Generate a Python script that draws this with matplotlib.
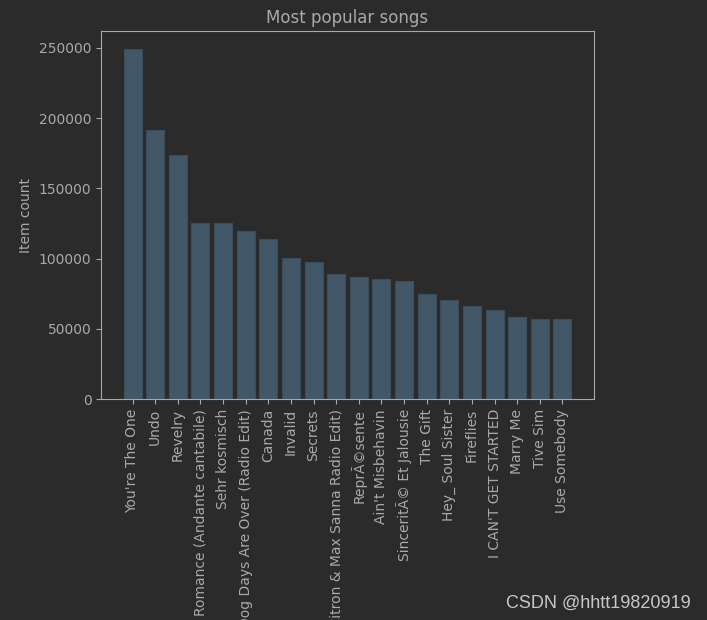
import matplotlib
matplotlib.use("Agg")
import matplotlib.pyplot as plt

# song titles and play counts
songs = ["You're The One", "Undo", "Revelry", "Romance (Andante cantabile)",
         "Sehr kosmisch", "Dog Days Are Over (Radio Edit)", "Canada", "Invalid",
         "Secrets", "(Citron & Max Sanna Radio Edit)", "ReprÃ©sente",
         "Ain't Misbehavin", "SinceritÃ© Et Jalousie", "The Gift",
         "Hey_ Soul Sister", "Fireflies", "I CAN'T GET STARTED", "Marry Me",
         "Tive Sim", "Use Somebody"]
counts = [249500, 191800, 173900, 125500, 125200, 119800, 114100, 100500,
          97700, 89300, 87000, 85500, 84100, 74800, 70600, 66300, 63400,
          58500, 57000, 56900]

bg = '#2b2b2b'
fg = '#a9a9a9'

fig = plt.figure(figsize=(7.07, 6.2), dpi=100, facecolor=bg)
ax = fig.add_axes([0.143, 0.356, 0.697, 0.594], facecolor=bg)

ax.bar(range(len(songs)), counts, color='#425868', edgecolor='#3c4d5a', linewidth=0.8)
ax.set_xticks(range(len(songs)))
ax.set_xticklabels(songs, rotation=90)

ax.set_title('Most popular songs', color=fg, fontsize=12)
ax.set_ylabel('Item count', color=fg)
ax.tick_params(colors=fg, labelcolor=fg)
for s in ax.spines.values():
    s.set_color(fg)

fig.text(0.977, 0.013, 'CSDN @hhtt19820919', color='#c8c8c8', fontsize=13,
         ha='right', va='bottom', family='Liberation Sans')

fig.savefig('out.png', facecolor=bg)
